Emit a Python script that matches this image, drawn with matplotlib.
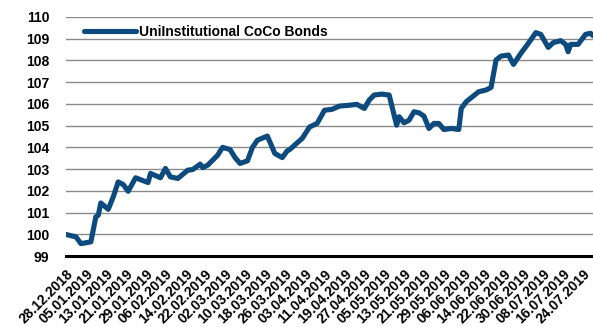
import matplotlib
matplotlib.use('Agg')
import matplotlib.pyplot as plt
import matplotlib.dates as mdates
import pandas as pd

plt.rcParams['font.family'] = ['Liberation Sans', 'DejaVu Sans']

dates = ['28.12.2018', '01.01.2019', '03.01.2019', '07.01.2019', '09.01.2019', '10.01.2019',
         '11.01.2019', '14.01.2019', '16.01.2019', '18.01.2019', '20.01.2019', '22.01.2019',
         '25.01.2019', '30.01.2019', '31.01.2019', '04.02.2019', '06.02.2019', '08.02.2019',
         '11.02.2019', '15.02.2019', '17.02.2019', '20.02.2019', '21.02.2019', '23.02.2019',
         '27.02.2019', '01.03.2019', '04.03.2019', '06.03.2019', '08.03.2019', '11.03.2019',
         '13.03.2019', '15.03.2019', '19.03.2019', '22.03.2019', '25.03.2019', '27.03.2019',
         '28.03.2019', '31.03.2019', '02.04.2019', '05.04.2019', '08.04.2019', '11.04.2019',
         '14.04.2019', '17.04.2019', '21.04.2019', '24.04.2019', '27.04.2019', '29.04.2019',
         '01.05.2019', '04.05.2019', '07.05.2019', '10.05.2019', '11.05.2019', '13.05.2019',
         '15.05.2019', '17.05.2019', '19.05.2019', '21.05.2019', '23.05.2019', '25.05.2019',
         '27.05.2019', '29.05.2019', '01.06.2019', '04.06.2019', '05.06.2019', '07.06.2019',
         '12.06.2019', '15.06.2019', '17.06.2019', '19.06.2019', '21.06.2019', '24.06.2019',
         '26.06.2019', '29.06.2019', '02.07.2019', '05.07.2019', '07.07.2019', '10.07.2019',
         '12.07.2019', '15.07.2019', '17.07.2019', '18.07.2019', '19.07.2019', '22.07.2019',
         '25.07.2019', '27.07.2019', '28.07.2019']
values = [99.99, 99.88, 99.57, 99.65, 100.80, 100.88,
          101.44, 101.15, 101.72, 102.41, 102.29, 101.98,
          102.60, 102.38, 102.80, 102.60, 103.03, 102.64,
          102.57, 102.95, 102.98, 103.23, 103.07, 103.18,
          103.64, 104.00, 103.90, 103.53, 103.26, 103.38,
          104.00, 104.33, 104.52, 103.72, 103.53, 103.84,
          103.90, 104.21, 104.41, 104.94, 105.10, 105.71,
          105.75, 105.90, 105.94, 105.98, 105.79, 106.18,
          106.41, 106.45, 106.41, 105.02, 105.41, 105.13,
          105.25, 105.64, 105.59, 105.44, 104.87, 105.10,
          105.10, 104.82, 104.87, 104.82, 105.79, 106.10,
          106.56, 106.64, 106.76, 108.02, 108.20, 108.25,
          107.82, 108.33, 108.79, 109.28, 109.20, 108.60,
          108.82, 108.91, 108.74, 108.40, 108.74, 108.74,
          109.20, 109.25, 109.14]

x = pd.to_datetime(dates, format='%d.%m.%Y')
start = pd.Timestamp('2018-12-28')
ticks = pd.date_range(start, '2019-07-24', freq='8D')

fig = plt.figure(figsize=(5.93, 3.27), dpi=100)
ax = fig.add_axes([66 / 593, 1 - 256 / 327, 527 / 593, 239 / 327])

ax.plot(x, values, color='#0d4a7d', linewidth=3.7, solid_joinstyle='round',
        solid_capstyle='round', label='UniInstitutional CoCo Bonds')

ax.set_ylim(99, 110)
ax.set_yticks(range(99, 111))
ax.set_xlim(start, start + pd.Timedelta(days=212))
ax.set_xticks(ticks)
ax.xaxis.set_major_formatter(mdates.DateFormatter('%d.%m.%Y'))

ax.grid(axis='y', color='#8a8a8a', linewidth=1)
ax.set_axisbelow(True)
for s in ['top', 'right', 'left']:
    ax.spines[s].set_visible(False)
ax.spines['bottom'].set_linewidth(2.2)
ax.spines['bottom'].set_color('black')

ax.tick_params(axis='both', length=0, labelsize=10)
ax.tick_params(axis='y', pad=12)
ax.tick_params(axis='x', pad=8)
for lab in ax.get_yticklabels():
    lab.set_fontweight('bold')
for lab in ax.get_xticklabels():
    lab.set_fontweight('bold')
    lab.set_rotation(45)
    lab.set_ha('right')
    lab.set_rotation_mode('anchor')

ax.legend(loc='center left', bbox_to_anchor=(71 / 593, 1 - 32 / 327),
          bbox_transform=fig.transFigure, frameon=False, handlelength=3.8,
          handletextpad=0.2, prop={'weight': 'bold', 'size': 10})

fig.savefig('out.png', dpi=100)
